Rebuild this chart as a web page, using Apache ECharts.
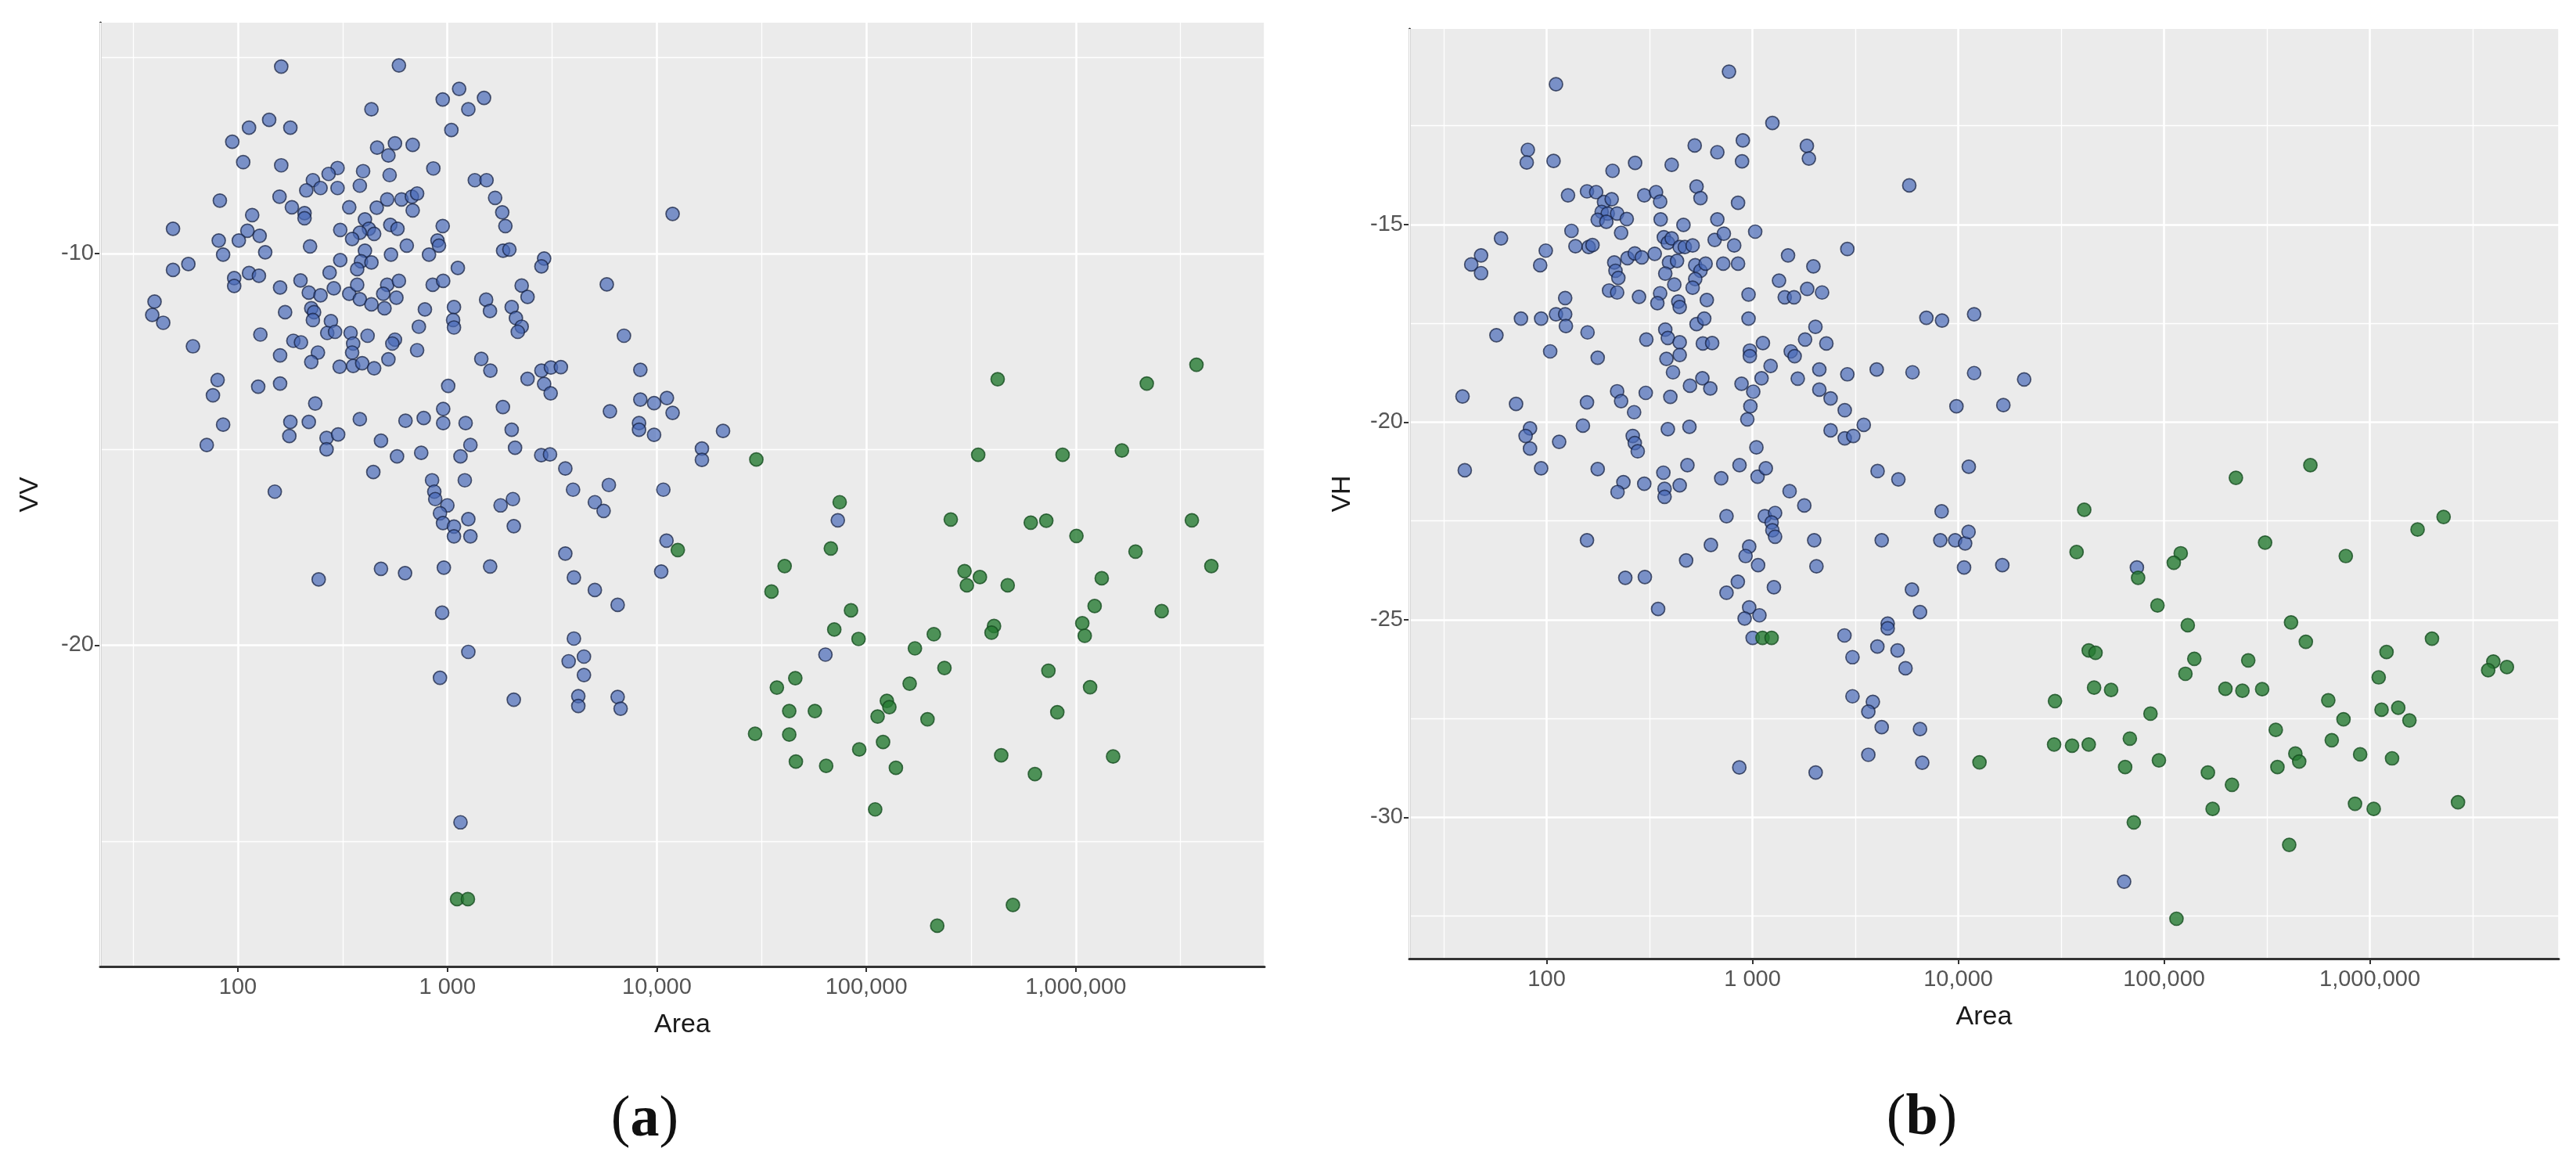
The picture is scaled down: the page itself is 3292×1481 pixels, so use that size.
<!DOCTYPE html>
<html>
<head>
<meta charset="utf-8">
<title>VV / VH vs Area</title>
<script src="https://cdn.jsdelivr.net/npm/echarts@6/dist/echarts.min.js"></script>
<style>
  html, body { margin: 0; padding: 0; background: #fff; }
  #chart { width: 3292px; height: 1481px; }
</style>
</head>
<body>
<div id="chart"></div>
<script>
// values: [Area, backscatter dB]
const vvBlue = [
  [161,-5.23],[587,-5.2],[950,-6.07],[434,-6.32],[113,-6.79],[141,-6.59],[178,-6.79],[94,-7.15],[106,-7.67],[161,-7.75],
  [462,-7.3],[562,-7.19],[683,-7.23],[523,-7.5],[857,-7.83],[530,-8.0],[396,-7.9],[382,-8.27],[299,-7.82],[271,-7.97],
  [228,-8.13],[212,-8.39],[248,-8.33],[299,-8.33],[158,-8.55],[181,-8.82],[208,-8.97],[208,-9.1],[340,-8.82],[460,-8.83],
  [516,-8.62],[604,-8.62],[677,-8.55],[717,-8.47],[683,-8.9],[950,-9.3],[897,-9.67],[912,-9.8],[817,-10.03],[308,-9.4],
  [404,-9.13],[422,-9.37],[382,-9.47],[447,-9.5],[351,-9.63],[534,-9.27],[578,-9.37],[640,-9.8],[538,-10.03],[404,-9.93],
  [387,-10.2],[434,-10.23],[371,-10.4],[308,-10.17],[274,-10.49],[221,-9.82],[49,-9.37],[82,-8.65],[117,-9.02],[111,-9.42],
  [127,-9.55],[101,-9.67],[81,-9.67],[85,-10.03],[135,-9.97],[49,-10.42],[58,-10.27],[113,-10.5],[126,-10.57],[96,-10.63],
  [96,-10.83],[159,-10.87],[199,-10.69],[218,-11.0],[248,-11.07],[287,-10.89],[340,-11.03],[371,-10.8],[382,-11.17],[434,-11.3],
  [501,-11.4],[516,-10.8],[587,-10.7],[494,-11.03],[571,-11.13],[851,-10.8],[781,-11.43],[731,-11.87],[717,-12.47],[562,-12.2],
  [546,-12.3],[523,-12.7],[416,-12.1],[345,-12.03],[355,-12.3],[351,-12.53],[355,-12.87],[392,-12.8],[447,-12.93],[306,-12.89],
  [278,-11.73],[267,-12.03],[291,-12.0],[224,-11.4],[231,-11.5],[228,-11.7],[168,-11.5],[128,-12.07],[184,-12.23],[200,-12.27],
  [241,-12.53],[224,-12.77],[159,-12.6],[159,-13.32],[125,-13.4],[80,-13.23],[76,-13.62],[85,-14.37],[61,-12.37],[40,-11.23],
  [39,-11.57],[44,-11.77],[234,-13.83],[178,-14.3],[218,-14.3],[382,-14.23],[631,-14.27],[771,-14.2],[955,-13.97],[955,-14.33],
  [955,-10.7],
  [1138,-5.8],[1496,-6.03],[1259,-6.32],[1045,-6.85],[1352,-8.13],[1538,-8.13],[1690,-8.58],[1828,-8.95],[1892,-9.3],[1845,-9.93],
  [1977,-9.9],[2897,-10.13],[2812,-10.33],[1122,-10.37],[2263,-10.82],[2414,-11.11],[1531,-11.18],[1597,-11.47],[1075,-11.37],[1065,-11.7],
  [1075,-11.89],[2028,-11.37],[2124,-11.65],[2263,-11.87],[2168,-12.0],[5768,-10.79],[11890,-8.99],[6966,-12.1],[1452,-12.69],[1604,-12.99],
  [1009,-13.38],[1222,-14.33],[1841,-13.92],[2028,-14.5],[2414,-13.2],[2812,-12.99],[3120,-12.91],[3482,-12.9],[2897,-13.33],[3112,-13.57],
  [8340,-12.97],[8340,-13.73],[9700,-13.82],[11170,-13.69],[11890,-14.07],[5970,-14.03],[8220,-14.33],[8220,-14.5],[9700,-14.63],[20700,-14.53],
  [71,-14.89],[176,-14.66],[265,-14.71],[265,-15.0],[301,-14.62],[482,-14.78],[575,-15.18],[750,-15.09],[1155,-15.18],[1288,-14.89],
  [2104,-14.96],[2806,-15.15],[3090,-15.13],[3656,-15.49],[16410,-14.98],[16410,-15.27],[443,-15.58],[845,-15.79],[866,-16.08],[875,-16.27],
  [1000,-16.43],[922,-16.63],[953,-16.88],[1075,-16.97],[1075,-17.22],[1259,-16.78],[1288,-17.22],[1211,-15.79],[1795,-16.43],[2055,-16.27],
  [2075,-16.96],[150,-16.08],[3981,-16.03],[5058,-16.35],[5570,-16.57],[5900,-15.91],[10740,-16.03],[11120,-17.33],[3656,-17.66],[4018,-18.27],
  [5058,-18.59],[6500,-18.97],[10490,-18.12],[243,-18.32],[482,-18.05],[628,-18.16],[962,-18.02],[1600,-17.99],[944,-19.17],[1259,-20.17],
  [922,-20.83],[4018,-19.83],[3793,-20.41],[4487,-20.29],[4487,-20.76],[2075,-21.39],[4217,-21.3],[4217,-21.55],[6500,-21.32],[6714,-21.62],
  [1155,-24.52],[73100,-16.81],[63800,-20.24]
];
const vvGreen = [
  [1112,-26.48],[1253,-26.48],[12590,-17.57],[29850,-15.26],[74600,-16.35],[67700,-17.53],[40740,-17.98],[35260,-18.63],[84500,-19.11],[70300,-19.6],
  [91800,-19.84],[170600,-20.08],[210000,-19.72],[236000,-20.58],[161000,-20.98],[125300,-21.42],[128800,-21.58],[113200,-21.82],[195900,-21.89],[120200,-22.47],
  [92500,-22.66],[138400,-23.13],[110200,-24.19],[64300,-23.08],[46100,-22.97],[42850,-22.28],[29440,-22.26],[42850,-21.68],[56800,-21.68],[37410,-21.08],
  [45800,-20.84],[423600,-13.21],[342000,-15.14],[253000,-16.79],[294400,-18.11],[302000,-18.47],[348500,-18.26],[473000,-18.47],[407000,-19.51],[396000,-19.68],
  [609500,-16.87],[723000,-16.82],[865000,-15.14],[1007000,-17.21],[1660000,-15.03],[2182000,-13.32],[3767000,-12.84],[1928000,-17.61],[3581000,-16.81],[4437000,-17.98],
  [1330000,-18.29],[1230000,-19.0],[1074000,-19.44],[1103000,-19.76],[2570000,-19.13],[740000,-20.65],[1170000,-21.07],[816000,-21.71],[440500,-22.81],[638000,-23.29],
  [1507000,-22.84],[501000,-26.63],[218000,-27.16]
];
const vhBlue = [
  [111,-11.45],[769,-11.13],[81,-13.11],[80,-13.43],[108,-13.39],[209,-13.64],[269,-13.44],[405,-13.49],[524,-13.0],[675,-13.17],
  [898,-12.87],[890,-13.4],[127,-14.26],[157,-14.16],[174,-14.18],[190,-14.43],[207,-14.36],[185,-14.68],[198,-14.72],[220,-14.72],
  [245,-14.86],[177,-14.88],[195,-14.93],[298,-14.26],[340,-14.18],[356,-14.42],[535,-14.04],[559,-14.33],[851,-14.45],[358,-14.87],
  [462,-15.01],[675,-14.87],[1031,-15.18],[230,-15.21],[132,-15.16],[138,-15.55],[160,-15.57],[167,-15.52],[60,-15.35],[48,-15.78],
  [43,-16.01],[48,-16.23],[99,-15.66],[93,-16.03],[213,-15.96],[216,-16.17],[223,-16.35],[247,-15.85],[268,-15.73],[290,-15.83],
  [335,-15.74],[371,-15.32],[388,-15.46],[405,-15.35],[443,-15.57],[469,-15.57],[512,-15.53],[393,-15.96],[430,-15.92],[377,-16.24],
  [417,-16.52],[527,-16.03],[559,-16.17],[527,-16.38],[512,-16.6],[592,-15.99],[721,-15.99],[851,-15.99],[655,-15.39],[726,-15.23],
  [815,-15.53],[600,-16.91],[957,-16.77],[957,-17.38],[281,-16.83],[356,-16.74],[345,-16.99],[436,-16.95],[443,-17.09],[201,-16.67],
  [220,-16.72],[123,-16.86],[111,-17.27],[123,-17.27],[124,-17.57],[75,-17.38],[94,-17.38],[57,-17.8],[104,-18.21],[158,-17.73],
  [177,-18.37],[305,-17.91],[377,-17.66],[388,-17.87],[443,-17.98],[443,-18.3],[535,-17.52],[583,-17.38],[574,-18.01],[637,-18.0],
  [971,-18.19],[971,-18.33],[1124,-18.0],[382,-18.4],[411,-18.74],[497,-19.08],[571,-18.89],[624,-19.15],[885,-19.03],[1009,-19.23],
  [1107,-18.89],[977,-19.6],[944,-19.93],[39,-19.35],[71,-19.54],[157,-19.5],[303,-19.26],[220,-19.22],[230,-19.47],[266,-19.75],
  [399,-19.36],[150,-20.09],[83,-20.16],[79,-20.35],[83,-20.67],[115,-20.5],[262,-20.35],[268,-20.53],[277,-20.74],[388,-20.18],
  [494,-20.12],[1045,-20.64],[40,-21.22],[94,-21.17],[177,-21.19],[369,-21.28],[483,-21.09],[865,-21.09],[705,-21.42],[1059,-21.38],
  [236,-21.52],[298,-21.56],[443,-21.6],
  [1250,-12.43],[1838,-13.01],[1880,-13.33],[5780,-14.01],[1489,-15.78],[2891,-15.62],[1977,-16.06],[1346,-16.42],[1435,-16.84],[1592,-16.84],
  [1845,-16.63],[2179,-16.72],[7000,-17.36],[8340,-17.43],[11940,-17.27],[2023,-17.59],[1802,-17.91],[2286,-18.01],[1535,-18.21],[1603,-18.33],
  [1225,-18.58],[1660,-18.9],[2113,-18.67],[2891,-18.79],[4015,-18.67],[5994,-18.74],[11940,-18.76],[20900,-18.92],[2113,-19.18],[2397,-19.4],
  [2808,-19.7],[3474,-20.07],[2397,-20.21],[2808,-20.41],[3090,-20.35],[9800,-19.6],[16560,-19.57],[1161,-21.17],[4055,-21.24],[5118,-21.45],
  [11250,-21.13],
  [221,-21.77],[374,-21.69],[374,-21.89],[1515,-21.75],[748,-22.38],[1148,-22.38],[1288,-22.3],[1239,-22.54],[1250,-22.74],[1288,-22.9],
  [1786,-22.11],[157,-22.99],[628,-23.11],[964,-23.15],[926,-23.39],[1065,-23.62],[476,-23.5],[241,-23.94],[300,-23.92],[849,-24.04],
  [748,-24.32],[1271,-24.18],[348,-24.73],[964,-24.69],[916,-24.97],[1081,-24.89],[1002,-25.46],[1995,-22.99],[2046,-23.65],[4246,-22.99],
  [8300,-22.26],[8180,-22.99],[9660,-22.99],[10800,-23.07],[11220,-22.78],[10670,-23.68],[16370,-23.62],[5957,-24.24],[6518,-24.81],[4540,-25.1],
  [4540,-25.22],[2799,-25.4],[4046,-25.68],[5070,-25.78],[3062,-25.95],[5543,-26.23],[3062,-26.94],[3846,-27.08],[3656,-27.33],[4246,-27.72],
  [6518,-27.77],[3656,-28.42],[6683,-28.62],[863,-28.74],[2028,-28.87],[73790,-23.68],[63970,-31.63]
];
const vhGreen = [
  [1119,-25.46],[1239,-25.46],[40930,-22.22],[37580,-23.29],[43050,-25.78],[46450,-25.84],[45710,-26.72],[29510,-27.06],[29220,-28.16],[35730,-28.19],
  [43050,-28.16],[12680,-28.61],[55300,-26.78],
  [223400,-21.41],[514000,-21.09],[309700,-23.05],[120500,-23.32],[111500,-23.56],[74800,-23.94],[764000,-23.39],[1706000,-22.72],[2282000,-22.4],[92900,-24.64],
  [130400,-25.14],[414000,-25.07],[488600,-25.56],[2004000,-25.48],[140300,-25.99],[127000,-26.37],[256500,-26.03],[1205000,-25.82],[1104000,-26.46],[3981000,-26.06],
  [3758000,-26.28],[4634000,-26.2],[198700,-26.75],[240300,-26.8],[299700,-26.76],[85900,-27.38],[628000,-27.04],[744700,-27.52],[1140000,-27.28],[1374000,-27.23],
  [1557000,-27.55],[349000,-27.79],[68200,-28.01],[64700,-28.73],[94400,-28.56],[163300,-28.87],[213800,-29.18],[172200,-29.79],[355600,-28.73],[434500,-28.39],
  [453600,-28.59],[653000,-28.05],[897000,-28.41],[1282000,-28.51],[847000,-29.66],[1044000,-29.79],[2681000,-29.62],[71290,-30.13],[405600,-30.7],[114900,-32.57]
];

// axis ranges and tick labels
const areaRangeA = [22, 7.96e6];
const areaRangeB = [21.5, 8.28e6];
const vvRange = [-28.2, -4.11];
const vhRange = [-33.58, -10.05];
const vvTicks = [-20, -10];
const vhTicks = [-30, -25, -20, -15];

const tickText = '#555555';
const axisDark = '#333333';

function areaLabel(v) {
  if (v === 1000) return '1 000';
  return String(Math.round(v)).replace(/\B(?=(\d{3})+(?!\d))/g, ',');
}

function logAxis(grid, range) {
  return {
    gridIndex: grid,
    type: 'log',
    logBase: 10,
    min: range[0],
    max: range[1],
    name: 'Area',
    nameLocation: 'middle',
    nameGap: 58,
    nameTextStyle: { fontFamily: 'Liberation Sans', fontSize: 34, color: '#1a1a1a' },
    axisLine: { show: true, onZero: false, lineStyle: { color: axisDark, width: 3 } },
    axisTick: { show: true, length: 7, lineStyle: { color: axisDark, width: 2 } },
    axisLabel: {
      fontFamily: 'Liberation Sans', fontSize: 29, color: tickText, margin: 12,
      showMinLabel: false, showMaxLabel: false, formatter: areaLabel
    },
    splitLine: { show: true, lineStyle: { color: '#ffffff', width: 2.6 } },
    z: 2
  };
}

// helper axis in log10 units, only used for the half-decade minor grid lines
function minorAxis(grid, range) {
  return {
    gridIndex: grid,
    type: 'value',
    min: Math.log10(range[0]),
    max: Math.log10(range[1]),
    axisLine: { show: false, onZero: false },
    axisTick: { show: false },
    axisLabel: { show: false },
    splitLine: { show: false },
    minorTick: { show: false, splitNumber: 2 },
    minorSplitLine: { show: true, lineStyle: { color: '#ffffff', width: 1.3 } }
  };
}

function valueAxis(grid, range, ticks, name, gap, split) {
  return {
    gridIndex: grid,
    type: 'value',
    min: range[0],
    max: range[1],
    splitNumber: split,
    name: name,
    nameLocation: 'middle',
    nameGap: gap,
    nameRotate: 90,
    nameTextStyle: { fontFamily: 'Liberation Sans', fontSize: 34, color: '#1a1a1a' },
    axisLine: { show: true, onZero: false, lineStyle: { color: axisDark, width: 3 } },
    axisTick: { show: true, length: 7, customValues: ticks, lineStyle: { color: axisDark, width: 2 } },
    axisLabel: {
      fontFamily: 'Liberation Sans', fontSize: 29, color: tickText, margin: 8,
      customValues: ticks
    },
    splitLine: { show: true, lineStyle: { color: '#ffffff', width: 2.6 } },
    minorTick: { show: false, splitNumber: 2 },
    minorSplitLine: { show: true, lineStyle: { color: '#ffffff', width: 1.3 } }
  };
}

const blueStyle = { color: 'rgba(72,106,184,0.88)', borderColor: 'rgba(20,30,62,0.9)', borderWidth: 1.7 };
const greenStyle = { color: 'rgb(38,122,50)', borderColor: 'rgb(22,78,32)', borderWidth: 1.7 };

const chart = echarts.init(document.getElementById('chart'), null, { renderer: 'canvas' });
chart.setOption({
  animation: false,
  backgroundColor: '#ffffff',
  grid: [
    { left: 128, top: 29, width: 1488, height: 1206, show: true, backgroundColor: '#EBEBEB', borderWidth: 0 },
    { left: 1801, top: 37, width: 1469, height: 1188, show: true, backgroundColor: '#EBEBEB', borderWidth: 0 }
  ],
  xAxis: [
    logAxis(0, areaRangeA),
    minorAxis(0, areaRangeA),
    logAxis(1, areaRangeB),
    minorAxis(1, areaRangeB)
  ],
  yAxis: [
    valueAxis(0, vvRange, vvTicks, 'VV', 72, 2),
    valueAxis(1, vhRange, vhTicks, 'VH', 68, 5)
  ],
  series: [
    { type: 'scatter', xAxisIndex: 0, yAxisIndex: 0, data: vvBlue, symbolSize: 17, itemStyle: blueStyle, z: 3 },
    { type: 'scatter', xAxisIndex: 0, yAxisIndex: 0, data: vvGreen, symbolSize: 17, itemStyle: greenStyle, z: 4 },
    { type: 'scatter', xAxisIndex: 2, yAxisIndex: 1, data: vhBlue, symbolSize: 17, itemStyle: blueStyle, z: 3 },
    { type: 'scatter', xAxisIndex: 2, yAxisIndex: 1, data: vhGreen, symbolSize: 17, itemStyle: greenStyle, z: 4 }
  ],
  graphic: [
    {
      type: 'text', x: 824, y: 1432,
      style: {
        text: '{p|(}{b|a}{p|)}', align: 'center', verticalAlign: 'middle',
        rich: {
          p: { fontFamily: 'Liberation Serif', fontSize: 74, fill: '#111' },
          b: { fontFamily: 'Liberation Serif', fontSize: 74, fontWeight: 'bold', fill: '#111' }
        }
      }
    },
    {
      type: 'text', x: 2456, y: 1430,
      style: {
        text: '{p|(}{b|b}{p|)}', align: 'center', verticalAlign: 'middle',
        rich: {
          p: { fontFamily: 'Liberation Serif', fontSize: 74, fill: '#111' },
          b: { fontFamily: 'Liberation Serif', fontSize: 74, fontWeight: 'bold', fill: '#111' }
        }
      }
    }
  ]
});
window.onresize = function () { chart.resize(); };
</script>
</body>
</html>
